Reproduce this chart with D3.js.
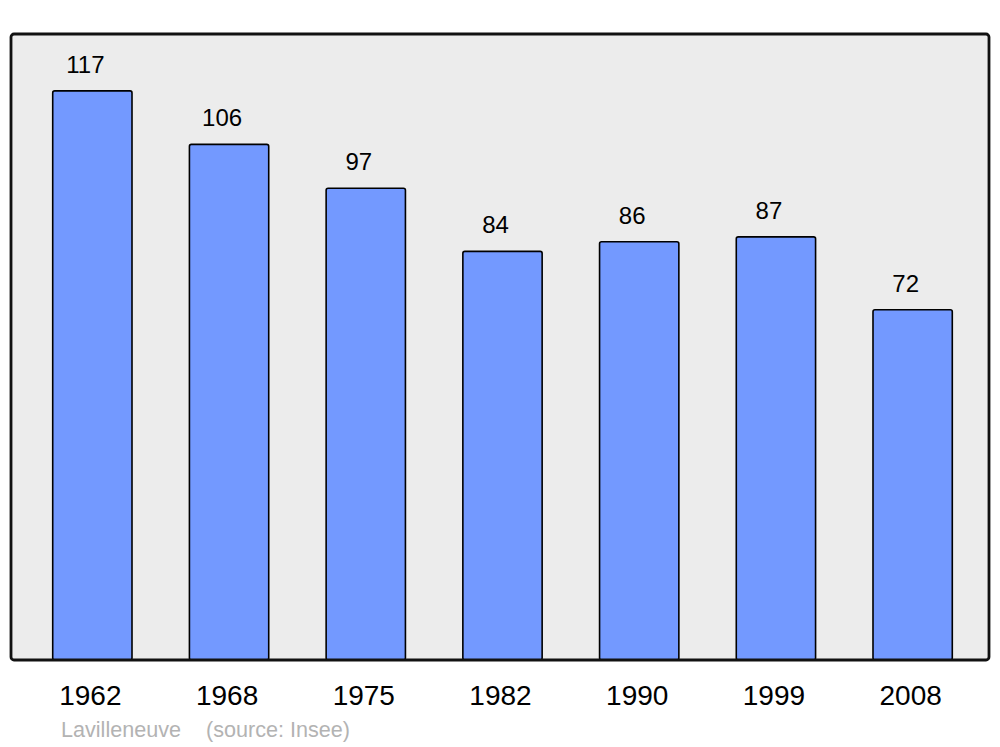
<!DOCTYPE html>
<html>
<head>
<meta charset="utf-8">
<script src="https://cdn.jsdelivr.net/npm/d3@7"></script>
<style>
  body { margin: 0; background: #fff; }
  text { font-family: "Liberation Sans", Arial, sans-serif; }
</style>
</head>
<body>
<svg id="chart" width="1000" height="747"></svg>
<script>
const years = ['1962', '1968', '1975', '1982', '1990', '1999', '2008'];
const population = [117, 106, 97, 84, 86, 87, 72];
const commune = 'Lavilleneuve';
const source = '(source: Insee)';

const frame = { left: 11, top: 34, right: 989, bottom: 660 };

const svg = d3.select('#chart');

// background panel
svg.append('rect')
  .attr('x', frame.left)
  .attr('y', frame.top)
  .attr('width', frame.right - frame.left)
  .attr('height', frame.bottom - frame.top)
  .attr('rx', 3)
  .attr('fill', '#ececec');

const x = d3.scaleBand()
  .domain(years)
  .range([24, 981])
  .paddingInner(0.42)
  .paddingOuter(0.21);

const y = d3.scaleLinear()
  .domain([0, d3.max(population) * 1.1])
  .range([frame.bottom, frame.top]);

const rows = years.map((year, i) => ({ year, value: population[i] }));

svg.selectAll('rect.bar')
  .data(rows)
  .join('rect')
  .attr('class', 'bar')
  .attr('x', d => x(d.year))
  .attr('y', d => y(d.value))
  .attr('width', x.bandwidth())
  .attr('height', d => y(0) - y(d.value))
  .attr('rx', 2)
  .attr('fill', '#7399ff')
  .attr('stroke', '#000')
  .attr('stroke-width', 1.6);

svg.selectAll('text.value')
  .data(rows)
  .join('text')
  .attr('class', 'value')
  .attr('x', d => x(d.year) + x.bandwidth() / 2 - 7)
  .attr('y', d => y(d.value) - 18)
  .attr('text-anchor', 'middle')
  .attr('font-size', 24)
  .attr('fill', '#000')
  .text(d => d.value);

// frame border drawn over the bar bottoms
svg.append('rect')
  .attr('x', frame.left)
  .attr('y', frame.top)
  .attr('width', frame.right - frame.left)
  .attr('height', frame.bottom - frame.top)
  .attr('rx', 3)
  .attr('fill', 'none')
  .attr('stroke', '#111')
  .attr('stroke-width', 2.8);

svg.selectAll('text.year')
  .data(years)
  .join('text')
  .attr('class', 'year')
  .attr('x', d => x(d) + x.bandwidth() / 2 - 2)
  .attr('y', 705)
  .attr('text-anchor', 'middle')
  .attr('font-size', 28)
  .attr('fill', '#000')
  .text(d => d);

svg.append('text')
  .attr('x', 61)
  .attr('y', 737)
  .attr('font-size', 21.6)
  .attr('fill', '#b3b3b3')
  .text(commune);

svg.append('text')
  .attr('x', 206)
  .attr('y', 737)
  .attr('font-size', 21.6)
  .attr('fill', '#b3b3b3')
  .text(source);
</script>
</body>
</html>
